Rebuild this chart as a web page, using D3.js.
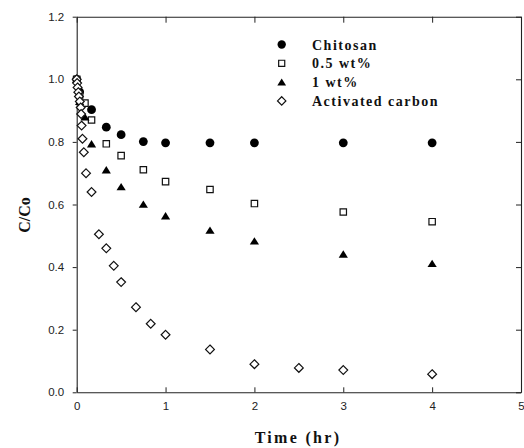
<!DOCTYPE html>
<html>
<head>
<meta charset="utf-8">
<script src="https://cdn.jsdelivr.net/npm/d3@7"></script>
<style>
  html, body { margin: 0; padding: 0; background: #fff; }
  svg { display: block; }
  .tick text { font-family: "Liberation Sans", Arial, sans-serif; font-size: 11.5px; fill: #222; }
  .ttl { font-family: "Liberation Serif", "Times New Roman", serif; font-weight: bold; fill: #111; }
</style>
</head>
<body>
<svg id="chart" width="524" height="448"></svg>
<script>
// Relative concentration C/Co vs contact time (hr)
const timeChitosan = [0, 0.033, 0.167, 0.333, 0.5, 0.75, 1, 1.5, 2, 3, 4];
const chitosan     = [1.0, 0.96, 0.903, 0.847, 0.823, 0.801, 0.797, 0.797, 0.797, 0.797, 0.797];

const timeHalf = [0, 0.033, 0.093, 0.167, 0.333, 0.5, 0.75, 1, 1.5, 2, 3, 4];
const wt05     = [1.0, 0.95, 0.924, 0.870, 0.794, 0.756, 0.711, 0.673, 0.648, 0.603, 0.576, 0.545];

const timeOne = [0, 0.033, 0.093, 0.167, 0.333, 0.5, 0.75, 1, 1.5, 2, 3, 4];
const wt1     = [1.0, 0.93, 0.88, 0.794, 0.711, 0.657, 0.601, 0.564, 0.518, 0.484, 0.442, 0.412];

const timeCarbon = [0, 0.005, 0.01, 0.018, 0.025, 0.035, 0.045, 0.05, 0.055, 0.065, 0.08, 0.105,
                    0.167, 0.25, 0.333, 0.417, 0.5, 0.667, 0.833, 1, 1.5, 2, 2.5, 3, 4];
const carbon     = [1.0, 0.988, 0.974, 0.959, 0.945, 0.929, 0.91, 0.889, 0.852, 0.81, 0.767, 0.70,
                    0.64, 0.505, 0.46, 0.404, 0.352, 0.272, 0.219, 0.184, 0.137, 0.090, 0.078, 0.071, 0.058];

const xTicks = [0, 1, 2, 3, 4, 5];
const yTicks = [0, 0.2, 0.4, 0.6, 0.8, 1.0, 1.2];
const legendLabels = ["Chitosan", "0.5 wt%", "1 wt%", "Activated carbon"];

const svg = d3.select("#chart");
const x = d3.scaleLinear().domain([0, 5]).range([76.7, 521]);
const y = d3.scaleLinear().domain([0, 1.2]).range([392.3, 16.7]);

// marker shapes (size = half-width in px)
const triangleShape = { draw(ctx, s) { const h = s * 0.8; ctx.moveTo(0, -h); ctx.lineTo(s, h); ctx.lineTo(-s, h); ctx.closePath(); } };
const diamondShape  = { draw(ctx, s) { ctx.moveTo(0, -s); ctx.lineTo(s, 0); ctx.lineTo(0, s); ctx.lineTo(-s, 0); ctx.closePath(); } };
const squareShape   = { draw(ctx, s) { ctx.rect(-s, -s, 2 * s, 2 * s); } };
const circleShape   = { draw(ctx, s) { ctx.moveTo(s, 0); ctx.arc(0, 0, s, 0, 2 * Math.PI); } };

const series = [
  { t: timeChitosan, v: chitosan, type: circleShape,   size: 4.4, fill: "#000", stroke: "none" },
  { t: timeHalf,     v: wt05,     type: squareShape,   size: 3.2, fill: "#fff", stroke: "#111" },
  { t: timeOne,      v: wt1,      type: triangleShape, size: 4.6, fill: "#000", stroke: "none" },
  { t: timeCarbon,   v: carbon,   type: diamondShape,  size: 4.4, fill: "#fff", stroke: "#111" }
];

// axes: left ticks outward, others inward; frame closed on all sides
const gx = svg.append("g").attr("transform", `translate(0,${y(0)})`)
  .call(d3.axisBottom(x).tickValues(xTicks).tickSizeInner(-5).tickSizeOuter(0).tickPadding(9.4).tickFormat(d3.format("d")));
const gy = svg.append("g").attr("transform", `translate(${x(0)},0)`)
  .call(d3.axisLeft(y).tickValues(yTicks).tickSizeInner(4).tickSizeOuter(0).tickPadding(8.5).tickFormat(d3.format(".1f")));
const gt = svg.append("g").attr("transform", `translate(0,${y(1.2)})`)
  .call(d3.axisTop(x).tickValues(xTicks).tickSizeInner(-6).tickSizeOuter(0).tickFormat(""));
const gr = svg.append("g").attr("transform", `translate(${x(5)},0)`)
  .call(d3.axisRight(y).tickValues(yTicks).tickSizeInner(-5).tickSizeOuter(0).tickFormat(""));
[gx, gy, gt, gr].forEach(g => {
  g.select(".domain").attr("stroke", "#222").attr("stroke-width", 1.1);
  g.selectAll(".tick line").attr("stroke", "#222").attr("stroke-width", 1);
});

// data markers, drawn in order so the open diamonds sit on top
series.forEach(s => {
  svg.append("g").selectAll("path")
    .data(s.t.map((t, i) => [t, s.v[i]]))
    .join("path")
    .attr("transform", d => `translate(${x(d[0])},${y(d[1])})`)
    .attr("d", d3.symbol().type(s.type).size(s.size))
    .attr("fill", s.fill)
    .attr("stroke", s.stroke)
    .attr("stroke-width", 1.2);
});

// legend
const lg = svg.append("g");
legendLabels.forEach((label, i) => {
  const s = series[i];
  const ly = 44.5 + i * 18.8;
  lg.append("path")
    .attr("transform", `translate(281.7,${ly})`)
    .attr("d", d3.symbol().type(s.type).size(s.size * 0.95))
    .attr("fill", s.fill).attr("stroke", s.stroke).attr("stroke-width", 1.2);
  lg.append("text").attr("class", "ttl")
    .attr("x", 312).attr("y", ly + 5)
    .attr("font-size", 14).attr("letter-spacing", 1.5)
    .text(label);
});

// axis titles
svg.append("text").attr("class", "ttl")
  .attr("x", 298).attr("y", 443).attr("text-anchor", "middle")
  .attr("font-size", 16).attr("letter-spacing", 2.3)
  .text("Time (hr)");
svg.append("text").attr("class", "ttl")
  .attr("transform", "translate(30,215) rotate(-90)")
  .attr("text-anchor", "middle").attr("font-size", 16)
  .text("C/Co");
</script>
</body>
</html>
